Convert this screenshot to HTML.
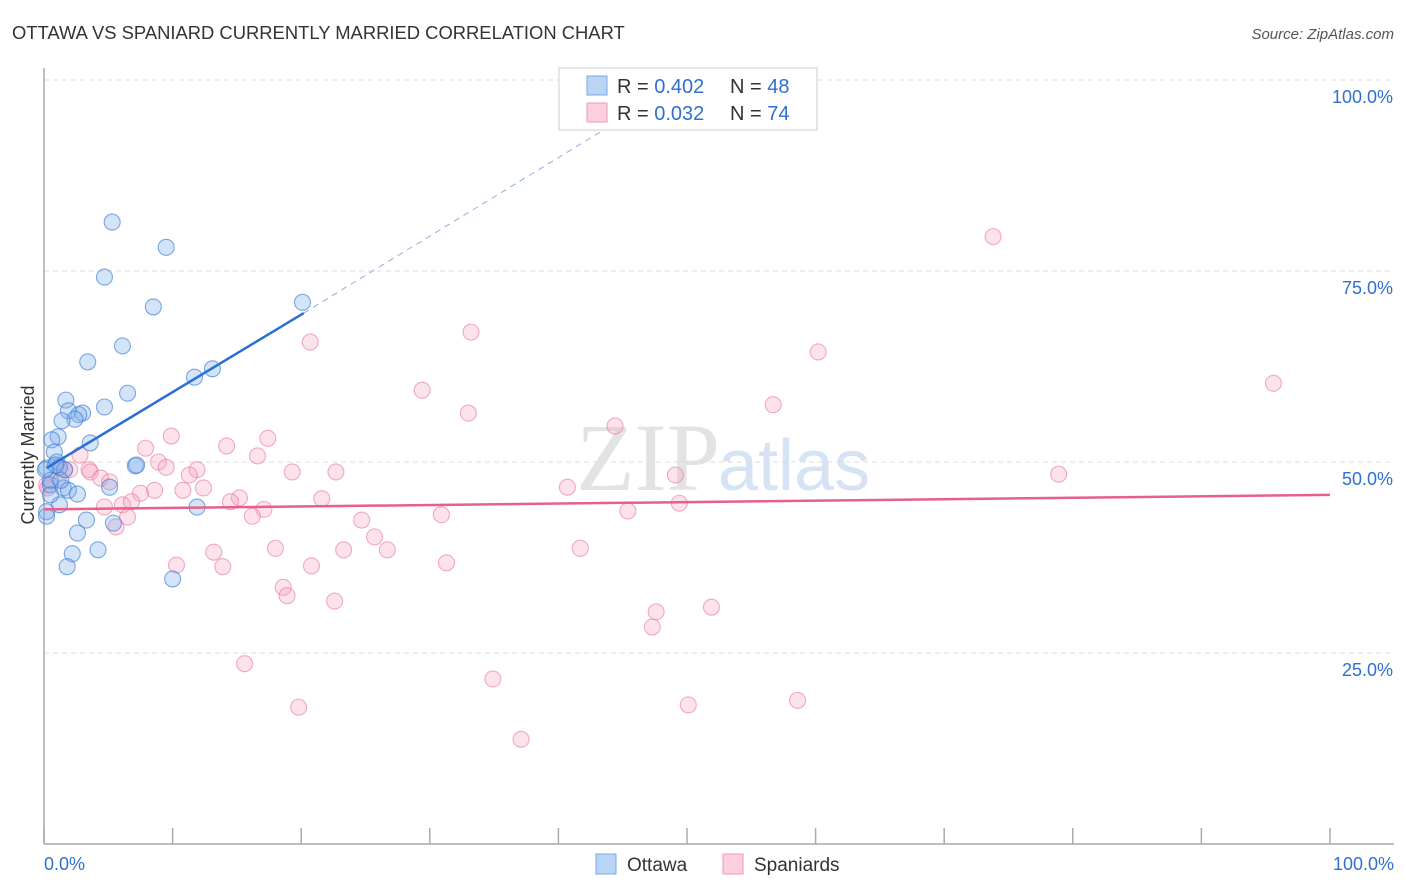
<!DOCTYPE html>
<html><head><meta charset="utf-8"><style>
body{margin:0;background:#fff;font-family:"Liberation Sans",sans-serif;}
#c{position:relative;width:1406px;height:892px;overflow:hidden;}
</style></head><body>
<div id="c">
<svg id="s" width="1406" height="892" xmlns="http://www.w3.org/2000/svg">
<text x="12" y="39" font-size="18.4" fill="#333">OTTAWA VS SPANIARD CURRENTLY MARRIED CORRELATION CHART</text>
<text x="1394" y="39" font-size="15" fill="#555" font-style="italic" text-anchor="end">Source: ZipAtlas.com</text>
<text x="720" y="490" font-size="96" fill="#e3e3e3" text-anchor="end" font-family="Liberation Serif">ZIP</text>
<text x="718" y="490" font-size="72" fill="#d5e3f5">atlas</text>
<g id="grid"></g><g id="pts"></g><g id="lines"></g>
<text x="34" y="455" font-size="18" fill="#333" text-anchor="middle" transform="rotate(-90 34 455)">Currently Married</text>
<rect x="559" y="68" width="258" height="62" fill="#fff" stroke="#ccc"/>
<rect x="587" y="76" width="20" height="19" fill="#b9d4f5" stroke="#7aa8e6"/>
<rect x="587" y="103" width="20" height="19" fill="#fbd0dc" stroke="#ef9ab3"/>
<text x="617" y="93" font-size="20" fill="#333">R = <tspan fill="#2f6fd4">0.402</tspan></text>
<text x="730" y="93" font-size="20" fill="#333">N = <tspan fill="#2f6fd4">48</tspan></text>
<text x="617" y="120" font-size="20" fill="#333">R = <tspan fill="#2f6fd4">0.032</tspan></text>
<text x="730" y="120" font-size="20" fill="#333">N = <tspan fill="#2f6fd4">74</tspan></text>
<rect x="596" y="854" width="20" height="20" fill="#b9d4f5" stroke="#7aa8e6"/>
<text x="627" y="871" font-size="19" fill="#333">Ottawa</text>
<rect x="723" y="854" width="20" height="20" fill="#fbd0dc" stroke="#ef9ab3"/>
<text x="754" y="871" font-size="19" fill="#333">Spaniards</text>
</svg>
</div>
<script>
const yTicks=[100,75,50,25];
const yTickLabels=["100.0%","75.0%","50.0%","25.0%"];
const xTickLabels=["0.0%","100.0%"];
const ottawaPx=[[112,222],[166,247],[104,277],[153,307],[303,302],[123,346],[88,362],[212,369],[194,377],[127,393],[66,400],[105,407],[68,411],[83,413],[79,415],[75,419],[62,421],[58,437],[52,440],[90,443],[54,452],[57,462],[135,466],[137,465],[60,467],[47,468],[110,487],[50,485],[63,488],[68,490],[78,494],[60,505],[197,507],[86,520],[113,523],[47,512],[47,516],[78,533],[98,550],[72,554],[67,567],[172,579],[50,480],[45,470],[61,480],[65,470],[55,465],[51,495]];
const spanPx=[[993,237],[1274,383],[818,352],[471,332],[310,342],[422,390],[773,405],[469,413],[615,426],[171,436],[268,438],[146,448],[227,446],[258,456],[158,462],[80,455],[166,467],[197,470],[189,475],[292,472],[336,472],[1059,474],[676,475],[89,470],[60,467],[70,470],[90,472],[100,478],[110,482],[204,488],[183,490],[141,493],[154,490],[568,487],[240,498],[231,502],[322,499],[679,503],[628,511],[105,507],[122,505],[132,502],[264,509],[252,516],[128,517],[116,527],[362,520],[441,515],[375,537],[388,550],[344,550],[276,548],[214,552],[580,548],[176,565],[223,567],[311,566],[447,563],[283,587],[287,596],[334,601],[712,607],[656,612],[652,627],[245,664],[493,679],[299,707],[688,705],[798,700],[521,739],[47,485],[48,488],[58,478],[65,470]];
// data values in percent
const ottawaX=ottawaPx.map(p=>+((p[0]-44)/12.86).toFixed(1));
const ottawaY=ottawaPx.map(p=>+((844-p[1])/7.64).toFixed(1));
const spanX=spanPx.map(p=>+((p[0]-44)/12.86).toFixed(1));
const spanY=spanPx.map(p=>+((844-p[1])/7.64).toFixed(1));
const ottawaTrend=[[0.2,49.2],[20.2,69.5]];
const ottawaTrendExt=[[20.2,69.5],[46,96]];
const spanTrend=[[0,43.8],[100,45.7]];
const X=v=>44+v*12.86, Y=v=>844-v*7.64;
const NS="http://www.w3.org/2000/svg";
function mk(t,a,parent){const e=document.createElementNS(NS,t);for(const k in a)e.setAttribute(k,a[k]);document.getElementById(parent).appendChild(e);return e;}
yTicks.forEach((v,i)=>{
 const g=mk('line',{x1:44,x2:1394,y1:Y(v),y2:Y(v),stroke:'#ddd','stroke-dasharray':'5,4'},'grid');
 
 
 const t=mk('text',{x:1393,y:Y(v)+23,'font-size':18,fill:'#2f6fd4','text-anchor':'end'},'grid');t.textContent=yTickLabels[i];
 
 
});
const ax=mk('line',{x1:44,x2:44,y1:68,y2:844,stroke:'#aaa','stroke-width':1.5},'grid');


const bx=mk('line',{x1:44,x2:1394,y1:844,y2:844,stroke:'#aaa','stroke-width':1.5},'grid');


for(let i=0;i<=10;i++){const t=mk('line',{x1:X(i*10),x2:X(i*10),y1:828,y2:844,stroke:'#aaa','stroke-width':1.5},'grid');
 
 }
[[0,'start',44],[100,'end',1394]].forEach((d,i)=>{const t=mk('text',{x:d[2],y:870,'font-size':18,fill:'#2f6fd4','text-anchor':d[1]},'grid');t.textContent=xTickLabels[i];
 
 });
function pts(xs,ys,fill,stroke,name){xs.forEach((x,i)=>{const c=mk('circle',{cx:X(x),cy:Y(ys[i]),r:8,fill:fill,stroke:stroke,'stroke-width':1.1},'pts');
 
 });}
pts(spanX,spanY,'rgba(246,160,185,0.3)','rgba(234,120,155,0.6)','spaniards-point');
pts(ottawaX,ottawaY,'rgba(130,175,235,0.35)','rgba(60,125,215,0.65)','ottawa-point');
function ln(d,st,w,dash,name){const l=mk('line',{x1:X(d[0][0]),y1:Y(d[0][1]),x2:X(d[1][0]),y2:Y(d[1][1]),stroke:st,'stroke-width':w,'stroke-dasharray':dash||''},'lines');
 
 }
ln(ottawaTrend,'#2a6fd6',2.5,null,'ottawa-trendline');
ln(ottawaTrendExt,'#8fb0e0',1,'6,5','ottawa-trendline-extension');
ln(spanTrend,'#e8608a',2.5,null,'spaniards-trendline');
</script>
</body></html>
